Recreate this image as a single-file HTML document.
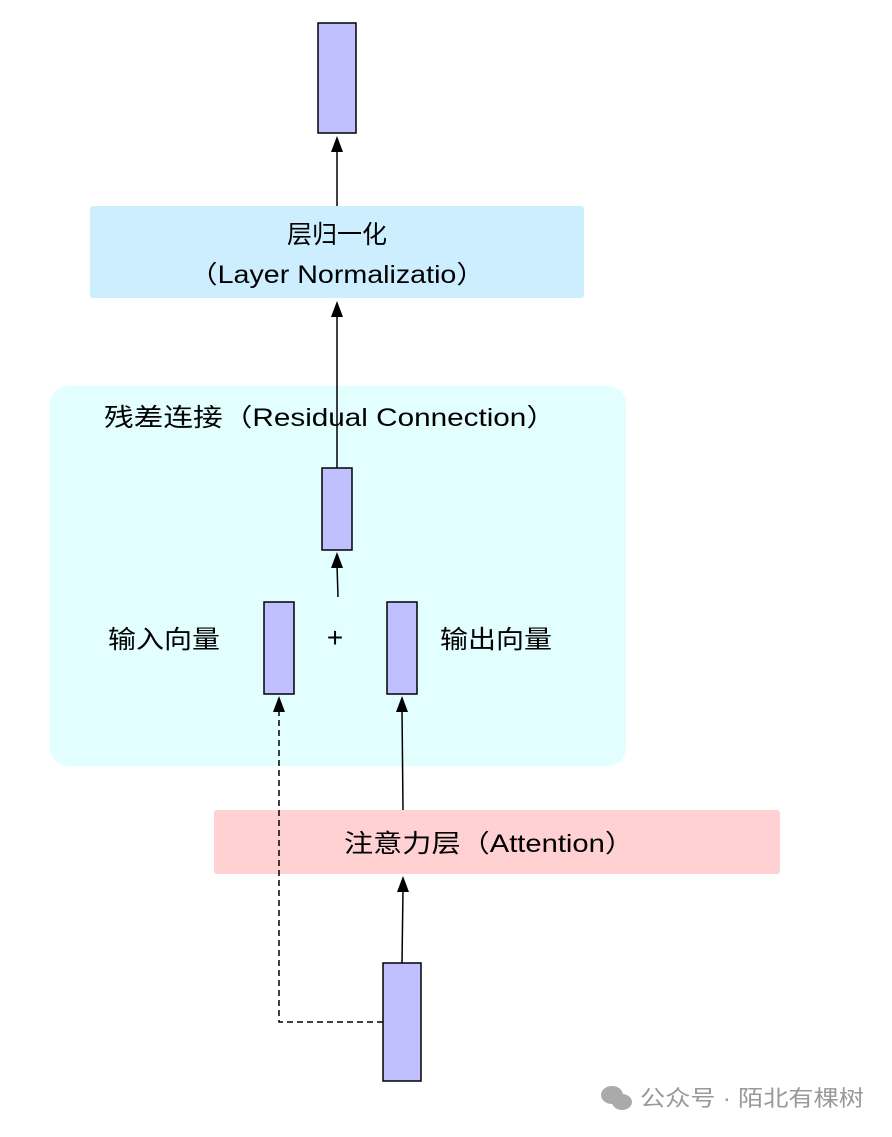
<!DOCTYPE html>
<html><head><meta charset="utf-8"><style>
html,body{margin:0;padding:0;background:#fff;}
svg text{font-family:"Liberation Sans","Noto Sans CJK SC",sans-serif;fill:#000;}
</style></head><body>
<svg width="892" height="1132" xmlns="http://www.w3.org/2000/svg">
<rect width="892" height="1132" fill="#fff"/>
<rect x="50" y="386" width="576" height="380" rx="18" fill="#e2feff"/>
<rect x="90" y="206" width="494" height="92" rx="3" fill="#cdeeff"/>
<rect x="214" y="810" width="566" height="64" rx="3" fill="#ffd1d3"/>
<rect x="318" y="23" width="38" height="110" fill="#c0c0ff" stroke="#000" stroke-width="1.5"/>
<rect x="322" y="468" width="30" height="82" fill="#c0c0ff" stroke="#000" stroke-width="1.5"/>
<rect x="264" y="602" width="30" height="92" fill="#c0c0ff" stroke="#000" stroke-width="1.5"/>
<rect x="387" y="602" width="30" height="92" fill="#c0c0ff" stroke="#000" stroke-width="1.5"/>
<rect x="383" y="963" width="38" height="118" fill="#c0c0ff" stroke="#000" stroke-width="1.5"/>
<g stroke="#000" stroke-width="1.5" fill="none">
<line x1="337" y1="206" x2="337" y2="148"/>
<line x1="337" y1="468" x2="337" y2="313"/>
<line x1="338" y1="597" x2="337" y2="565"/>
<line x1="403" y1="810" x2="402" y2="709"/>
<line x1="402" y1="963" x2="403" y2="889"/>
<polyline points="383,1022 279,1022 279,709" stroke-dasharray="6,4"/>
</g>
<g fill="#000">
<polygon points="337,136 331,152 343,152"/>
<polygon points="337,301 331,317 343,317"/>
<polygon points="337,552 331,568 343,568"/>
<polygon points="402,696 396,712 408,712"/>
<polygon points="403,876 397,892 409,892"/>
<polygon points="279,696 273,712 285,712"/>
</g>
<text x="337" y="243" font-size="25" text-anchor="middle">层归一化</text>
<text x="337" y="283" font-size="25" text-anchor="middle" textLength="296" lengthAdjust="spacingAndGlyphs">（Layer Normalizatio）</text>
<text x="104" y="426" font-size="25" textLength="452" lengthAdjust="spacingAndGlyphs">残差连接（Residual Connection）</text>
<text x="108" y="648" font-size="25" textLength="112" lengthAdjust="spacingAndGlyphs">输入向量</text>
<text x="440" y="648" font-size="25" textLength="112" lengthAdjust="spacingAndGlyphs">输出向量</text>
<text x="335" y="647" font-size="28" text-anchor="middle">+</text>
<text x="344" y="852" font-size="25" textLength="290" lengthAdjust="spacingAndGlyphs">注意力层（Attention）</text>
<g fill="#aaa"><ellipse cx="612" cy="1095" rx="11" ry="9"/><ellipse cx="622" cy="1102" rx="10" ry="8"/></g>
<text x="640" y="1106" font-size="22" style="fill:#999" textLength="224" lengthAdjust="spacingAndGlyphs">公众号 · 陌北有棵树</text>
</svg>
</body></html>
